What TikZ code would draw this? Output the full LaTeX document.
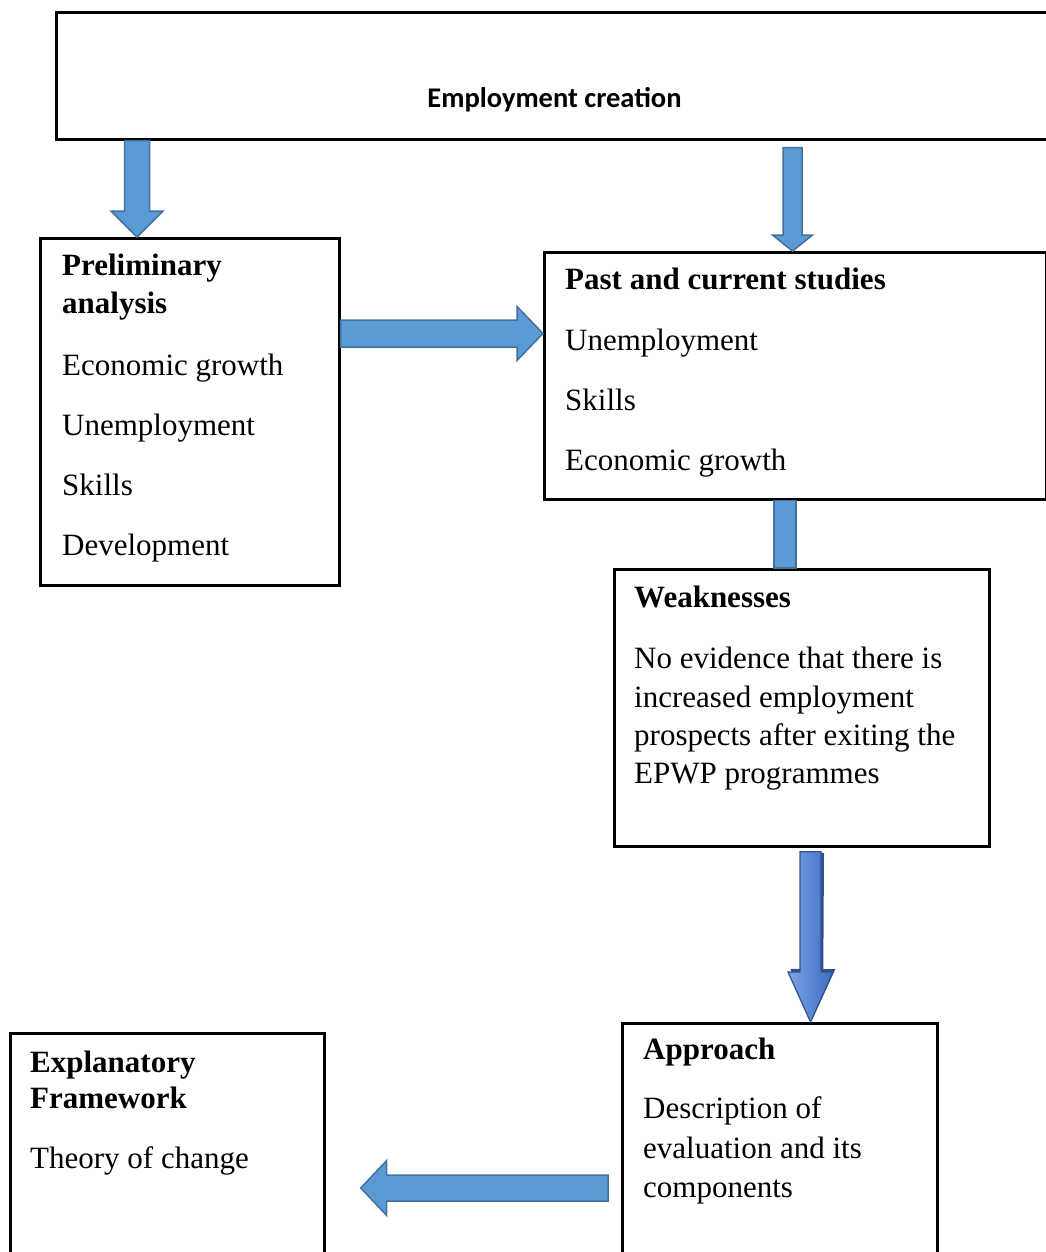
\documentclass[tikz,border=0pt]{standalone}
\usepackage{fontspec}
\setmainfont{Liberation Serif}
\newfontfamily\calib{Carlito}
\usetikzlibrary{calc}
\definecolor{afill}{HTML}{5B9BD5}
\definecolor{aline}{HTML}{41719C}
\definecolor{gline}{HTML}{2F528F}
\definecolor{glight}{HTML}{7AA3E4}
\definecolor{gdark}{HTML}{3F6BC2}
\tikzset{
  box/.style={draw=black, line width=2.7pt, fill=white, inner sep=0pt, anchor=north west},
  ln/.style={inner sep=0pt, anchor=base west, font=\fontsize{31}{37}\selectfont},
  hd/.style={inner sep=0pt, anchor=base west, font=\fontsize{31}{37}\selectfont\bfseries},
  barrow/.style={fill=afill, draw=aline, line width=1.5pt, line join=miter},
  garrow/.style={left color=glight, right color=gdark, draw=gline, line width=1.2pt, line join=miter},
  gshadow/.style={fill=gline, draw=none},
}
\newcommand{\BlkArrow}[6][barrow]{%
  \coordinate (bah) at ($(#3)!#6!(#2)$);
  \path[#1] ($(#2)!#4!90:(#3)$) -- ($(bah)!#4!90:(#3)$) -- ($(bah)!#5!90:(#3)$) -- (#3)
    -- ($(bah)!#5!-90:(#3)$) -- ($(bah)!#4!-90:(#3)$) -- ($(#2)!#4!-90:(#3)$) -- cycle;}
\begin{document}
\begin{tikzpicture}[x=1pt,y=-1pt]
\useasboundingbox (0,0) rectangle (1046,1252);

% boxes
\node[box, minimum width=1005pt, minimum height=127pt] (top) at (55,11) {};
\node[box, minimum width=299pt, minimum height=347pt] (prelim) at (39,237) {};
\node[box, minimum width=502pt, minimum height=247pt] (past) at (543,251) {};
\node[box, minimum width=375pt, minimum height=277pt] (weak) at (613,568) {};
\node[box, minimum width=315pt, minimum height=243pt] (appr) at (621,1022) {};
\node[box, minimum width=314pt, minimum height=233pt] (expl) at (9,1032) {};

% texts
\node[inner sep=0pt, anchor=base, font=\calib\fontsize{28.5}{34}\selectfont\bfseries] (topT) at (554.5,108) {Employment creation};

\node[hd] (p1) at (62,275) {Preliminary};
\node[hd] (p2) at (62,313) {analysis};
\node[ln] (p3) at (62,375) {Economic growth};
\node[ln] (p4) at (62,435) {Unemployment};
\node[ln] (p5) at (62,495) {Skills};
\node[ln] (p6) at (62,555) {Development};

\node[hd] (s1) at (565,289) {Past and current studies};
\node[ln] (s2) at (565,350) {Unemployment};
\node[ln] (s3) at (565,410) {Skills};
\node[ln] (s4) at (565,470) {Economic growth};

\node[hd] (w1) at (634,607) {Weaknesses};
\node[ln] (w2) at (634,668) {No evidence that there is};
\node[ln] (w3) at (634,707) {increased employment};
\node[ln] (w4) at (634,745) {prospects after exiting the};
\node[ln] (w5) at (634,783) {EPWP programmes};

\node[hd] (ap1) at (643,1059) {Approach};
\node[ln] (ap2) at (643,1118) {Description of};
\node[ln] (ap3) at (643,1158) {evaluation and its};
\node[ln] (ap4) at (643,1197) {components};

\node[hd] (e1) at (30,1072) {Explanatory};
\node[hd] (e2) at (30,1108) {Framework};
\node[ln] (e3) at (30,1168) {Theory of change};

% arrows
\coordinate (a1s) at (137,0 |- top.south);
\coordinate (a1e) at (137,0 |- prelim.north);
\BlkArrow{a1s}{a1e}{12.5pt}{26pt}{26pt}

\coordinate (a2s) at ($(792.5,0 |- top.south)+(0,7)$);
\coordinate (a2e) at (792.5,0 |- past.north);
\BlkArrow{a2s}{a2e}{9.5pt}{20pt}{16pt}

\coordinate (a3s) at (prelim.east |- 0,333.5);
\coordinate (a3e) at (past.west |- 0,333.5);
\BlkArrow{a3s}{a3e}{13.5pt}{27pt}{26pt}

\path[barrow] (774,0 |- past.south) rectangle (796,0 |- weak.north);

\coordinate (g1s) at ($(810.5,0 |- weak.south)+(0,4)$);
\coordinate (g1e) at (810.5,0 |- appr.north);
\coordinate (g2s) at ($(g1s)+(3,1)$);
\coordinate (g2e) at ($(g1e)+(2,-3)$);
\BlkArrow[gshadow]{g2s}{g2e}{10.5pt}{22.5pt}{50pt}
\BlkArrow[garrow]{g1s}{g1e}{10.5pt}{22.5pt}{50pt}

\coordinate (a4s) at ($(appr.west |- 0,1188)+(-13,0)$);
\coordinate (a4e) at ($(expl.east |- 0,1188)+(35,0)$);
\BlkArrow{a4s}{a4e}{13pt}{27.5pt}{26pt}
\end{tikzpicture}
\end{document}
